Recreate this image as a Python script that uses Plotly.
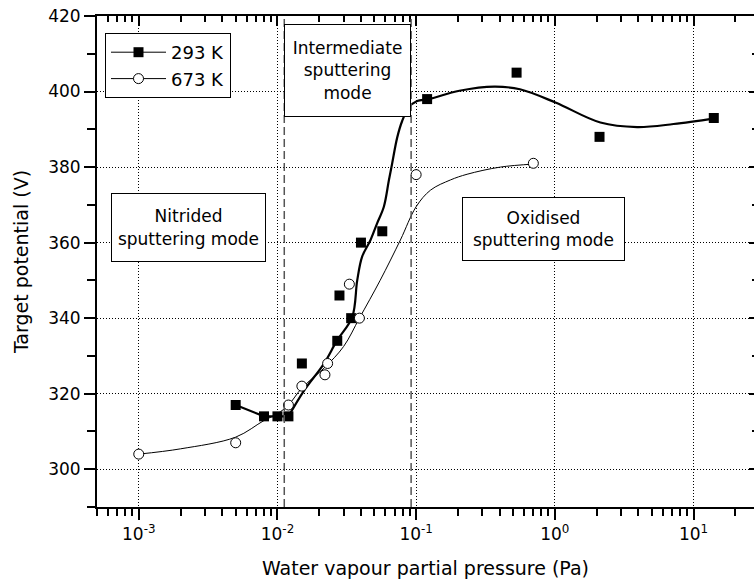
import numpy as np
import plotly.graph_objects as go

# Measured target potential vs. water vapour partial pressure
pressure_293 = [0.005, 0.008, 0.010, 0.012, 0.015, 0.027, 0.028, 0.034, 0.040, 0.057, 0.12, 0.53, 2.1, 14.0]
potential_293 = [317, 314, 314, 314, 328, 334, 346, 340, 360, 363, 398, 405, 388, 393]

pressure_673 = [0.001, 0.005, 0.012, 0.015, 0.022, 0.023, 0.033, 0.039, 0.10, 0.70]
potential_673 = [304, 307, 317, 322, 325, 328, 349, 340, 378, 381]

# Hand-drawn guide curves through the data
guide_p_293 = [0.012, 0.0156, 0.0216, 0.0269, 0.0346, 0.0376, 0.0408, 0.0469, 0.0523, 0.0585,
               0.0636, 0.0671, 0.073, 0.0793, 0.0885, 0.1016, 0.123, 0.205, 0.366, 0.56,
               1.01, 2.13, 3.92, 7.18, 14.3]
guide_v_293 = [314, 320.9, 327.9, 334.1, 340.3, 350.0, 356.3, 360.7, 365.1, 369.5,
               376.5, 380.9, 387.8, 392.2, 395.8, 397.5, 398.0, 400.2, 401.3, 400.6,
               397.1, 391.8, 390.6, 391.4, 392.9]

guide_p_673 = [0.001, 0.002, 0.005, 0.008, 0.010, 0.012, 0.015, 0.022, 0.030, 0.039, 0.055,
               0.077, 0.10, 0.127, 0.177, 0.233, 0.405, 0.71]
guide_v_673 = [304, 305.4, 308.5, 312.9, 314.7, 317, 321.5, 327, 332.5, 340, 350,
               360.7, 369.5, 373.9, 376.6, 378.1, 380.0, 380.8]

# Boundaries between sputtering modes (Pa)
mode_limits = [0.0112, 0.092]

# Axis ticks
x_major = [1e-3, 1e-2, 1e-1, 1e0, 1e1]
x_major_text = ["10<sup>-3</sup>", "10<sup>-2</sup>", "10<sup>-1</sup>", "10<sup>0</sup>", "10<sup>1</sup>"]
x_minor = [m * 10.0 ** e for e in range(-4, 2) for m in range(2, 10)]
y_major = [300, 320, 340, 360, 380, 400, 420]
x_range = [np.log10(5e-4), 1.436]
y_range = [290, 420]

FONT = "DejaVu Sans"
grid_dash = "1px,2px"

fig = go.Figure()

# 293 K: straight segment over the low-pressure points, then smooth guide
n_flat = 4
fig.add_trace(go.Scatter(
    x=pressure_293[:n_flat], y=potential_293[:n_flat], mode="lines",
    line=dict(color="black", width=2.2), showlegend=False, hoverinfo="skip"))
fig.add_trace(go.Scatter(
    x=guide_p_293, y=guide_v_293, mode="lines",
    line=dict(color="black", width=2.2, shape="spline", smoothing=1.0),
    showlegend=False, hoverinfo="skip"))
# 673 K guide
fig.add_trace(go.Scatter(
    x=guide_p_673, y=guide_v_673, mode="lines",
    line=dict(color="black", width=1.0, shape="spline", smoothing=1.0),
    showlegend=False, hoverinfo="skip"))

# Data points
fig.add_trace(go.Scatter(
    x=pressure_293, y=potential_293, mode="markers",
    marker=dict(symbol="square", size=10, color="black", line=dict(width=0)),
    showlegend=False))
fig.add_trace(go.Scatter(
    x=pressure_673, y=potential_673, mode="markers",
    marker=dict(symbol="circle", size=10, color="white", line=dict(color="black", width=1)),
    showlegend=False))

# Legend entries (line + symbol)
fig.add_trace(go.Scatter(
    x=[None], y=[None], mode="lines+markers", name="293 K",
    xaxis="x2", yaxis="y2",
    line=dict(color="black", width=1),
    marker=dict(symbol="square", size=10, color="black")))
fig.add_trace(go.Scatter(
    x=[None], y=[None], mode="lines+markers", name="673 K",
    xaxis="x2", yaxis="y2",
    line=dict(color="black", width=1),
    marker=dict(symbol="circle", size=10, color="white", line=dict(color="black", width=1))))

# Mode boundaries
for p in mode_limits:
    fig.add_shape(type="line", xref="x", yref="paper", x0=p, x1=p, y0=0, y1=1,
                  line=dict(color="#555555", width=1.5, dash="8px,4px"), layer="above")

# Mode labels
def mode_box(text, x0, y0, w, h):
    fig.add_annotation(
        text=text, xref="paper", yref="paper", x=x0, y=y0,
        xanchor="left", yanchor="top", showarrow=False,
        width=w, height=h, align="center", valign="middle",
        bgcolor="white", bordercolor="black", borderwidth=1, borderpad=0,
        font=dict(family=FONT, size=17, color="black"))

plot_w = 754 - 97
plot_h = 507 - 16
mode_box("Intermediate<br>sputtering<br>mode", (284 - 97) / plot_w, 1 - (24 - 16) / plot_h, 125, 91)
mode_box("Nitrided<br>sputtering mode", (111 - 97) / plot_w, 1 - (193 - 16) / plot_h, 153, 67)
mode_box("Oxidised<br>sputtering mode", (462 - 97) / plot_w, 1 - (197 - 16) / plot_h, 161, 62)

axis_common = dict(linecolor="black", tickcolor="black", zeroline=False)

fig.update_layout(
    width=754, height=585,
    margin=dict(l=97, r=0, t=16, b=78),
    paper_bgcolor="white", plot_bgcolor="white",
    font=dict(family=FONT, size=17, color="black"),
    xaxis=dict(
        type="log", range=x_range,
        tickmode="array", tickvals=x_major, ticktext=x_major_text,
        ticks="outside", ticklen=11, tickwidth=1.5,
        showline=True, linewidth=2,
        showgrid=True, gridcolor="black", gridwidth=1, griddash=grid_dash,
        minor=dict(tickmode="array", tickvals=x_minor, ticks="outside",
                   ticklen=7, tickwidth=1.5, tickcolor="black", showgrid=False),
        tickfont=dict(family=FONT, size=17),
        title=dict(text="Water vapour partial pressure (Pa)",
                   font=dict(family=FONT, size=19), standoff=18),
        **axis_common),
    yaxis=dict(
        range=y_range, tickmode="array", tickvals=y_major,
        ticks="outside", ticklen=11, tickwidth=1.5,
        showline=True, linewidth=2,
        showgrid=True, gridcolor="black", gridwidth=1, griddash=grid_dash,
        minor=dict(dtick=10, tick0=290, ticks="outside", ticklen=8,
                   tickwidth=1.5, tickcolor="black", showgrid=False),
        tickfont=dict(family=FONT, size=17),
        title=dict(text="Target potential (V)",
                   font=dict(family=FONT, size=19), standoff=14),
        **axis_common),
    xaxis2=dict(
        type="log", range=x_range, overlaying="x", side="top", anchor="y",
        tickmode="array", tickvals=x_major, showticklabels=False,
        ticks="inside", ticklen=10, tickwidth=1.5,
        showline=True, linewidth=2, showgrid=False,
        minor=dict(tickmode="array", tickvals=x_minor, ticks="inside",
                   ticklen=6, tickwidth=1.5, tickcolor="black", showgrid=False),
        **axis_common),
    yaxis2=dict(
        range=y_range, overlaying="y", side="right", anchor="x2",
        tickmode="array", tickvals=y_major, showticklabels=False,
        ticks="inside", ticklen=5, tickwidth=1.5,
        showline=False, showgrid=False,
        minor=dict(dtick=10, tick0=290, ticks="inside", ticklen=2,
                   tickwidth=1.5, tickcolor="black", showgrid=False),
        **axis_common),
    legend=dict(
        x=(105 - 97) / plot_w, y=1 - (33 - 16) / plot_h,
        xanchor="left", yanchor="top",
        bgcolor="white", bordercolor="black", borderwidth=1,
        font=dict(family=FONT, size=18), itemwidth=55,
        tracegroupgap=0),
    showlegend=True,
)

fig.write_html("out.html")
